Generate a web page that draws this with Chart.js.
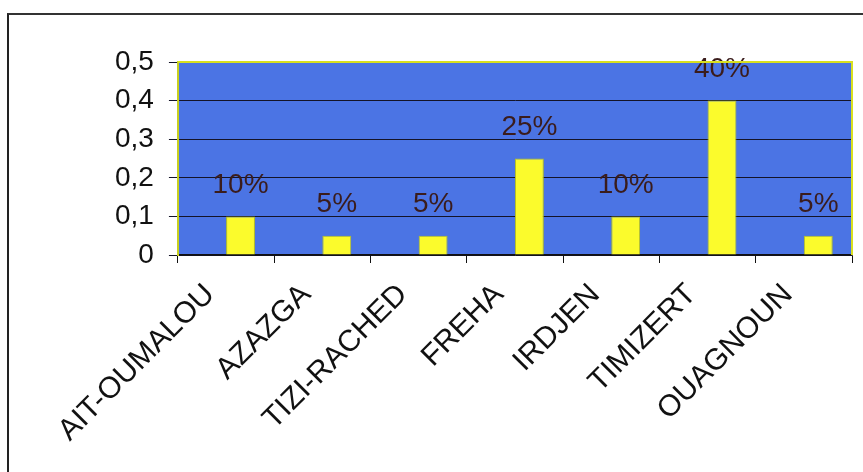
<!DOCTYPE html>
<html>
<head>
<meta charset="utf-8">
<script src="https://cdn.jsdelivr.net/npm/chart.js@4"></script>
<style>
  html, body { margin: 0; padding: 0; background: #ffffff; }
  #wrap { position: relative; width: 863px; height: 472px; overflow: hidden; }
  #frame { position: absolute; left: 7px; top: 13px; right: -5px; bottom: -5px;
           border-left: 2px solid #222; border-top: 2px solid #333; }
  canvas { position: absolute; left: 0; top: 0; }
</style>
</head>
<body>
<div id="wrap">
  <div id="frame"></div>
  <canvas id="c" width="863" height="472"></canvas>
</div>
<script>
const categories = ["AIT-OUMALOU", "AZAZGA", "TIZI-RACHED", "FREHA", "IRDJEN", "TIMIZERT", "OUAGNOUN"];
// The source chart reserves an (empty) first series slot, so bars sit right of the category centre.
const emptySeries = [null, null, null, null, null, null, null];
const values = [0.10, 0.05, 0.05, 0.25, 0.10, 0.40, 0.05];
const yTicks = [0, 0.1, 0.2, 0.3, 0.4, 0.5];

const plotBg = {
  id: 'plotBg',
  beforeDraw(chart) {
    const a = chart.chartArea, ctx = chart.ctx;
    ctx.save();
    ctx.fillStyle = '#4b74e4';
    ctx.fillRect(a.left, a.top, a.right - a.left, a.bottom - a.top);
    ctx.restore();
  },
  afterDraw(chart) {
    const a = chart.chartArea, ctx = chart.ctx;
    ctx.save();
    ctx.strokeStyle = '#d8e020';
    ctx.lineWidth = 2;
    ctx.beginPath();
    ctx.moveTo(a.left, a.top);
    ctx.lineTo(a.right, a.top);
    ctx.lineTo(a.right, a.bottom);
    ctx.stroke();
    ctx.restore();
  }
};

const valueLabels = {
  id: 'valueLabels',
  afterDatasetsDraw(chart) {
    const ctx = chart.ctx;
    const meta = chart.getDatasetMeta(1);
    ctx.save();
    ctx.font = '28px "Liberation Sans", Arial, sans-serif';
    ctx.fillStyle = '#3a1c1c';
    ctx.textAlign = 'center';
    ctx.textBaseline = 'middle';
    meta.data.forEach((bar, i) => {
      ctx.fillText(Math.round(values[i] * 100) + '%', bar.x, bar.y - 31);
    });
    ctx.restore();
  }
};

new Chart(document.getElementById('c'), {
  type: 'bar',
  data: {
    labels: categories,
    datasets: [{
      data: emptySeries,
      backgroundColor: 'rgba(0,0,0,0)',
      borderWidth: 0,
      barPercentage: 1.0,
      categoryPercentage: 0.6
    }, {
      data: values,
      backgroundColor: '#fbfb2c',
      borderColor: '#b9c21e',
      borderWidth: 1,
      barPercentage: 1.0,
      categoryPercentage: 0.6
    }]
  },
  options: {
    responsive: false,
    animation: false,
    devicePixelRatio: 1,
    layout: { padding: { top: 62, right: 11, bottom: 24, left: 100 } },
    plugins: { legend: { display: false }, tooltip: { enabled: false } },
    scales: {
      x: {
        offset: true,
        grid: { offset: true, drawOnChartArea: false, drawTicks: true, tickLength: 8, color: '#111', lineWidth: 1 },
        border: { display: true, color: '#111', width: 1.5 },
        ticks: {
          color: '#111',
          font: { family: '"Liberation Sans", Arial, sans-serif', size: 30 },
          minRotation: 45, maxRotation: 45,
          padding: 14,
          labelOffset: -16,
          autoSkip: false
        }
      },
      y: {
        min: 0, max: 0.5,
        afterBuildTicks(scale) { scale.ticks = yTicks.map(v => ({ value: v })); },
        grid: { color: '#141428', lineWidth: 1, tickLength: 9, drawTicks: true },
        border: { display: true, color: '#c8d020', width: 2 },
        ticks: {
          color: '#111',
          padding: 15,
          font: { family: '"Liberation Sans", Arial, sans-serif', size: 28 },
          callback: v => v === 0 ? '0' : v.toFixed(1).replace('.', ',')
        }
      }
    }
  },
  plugins: [plotBg, valueLabels]
});
</script>
</body>
</html>
